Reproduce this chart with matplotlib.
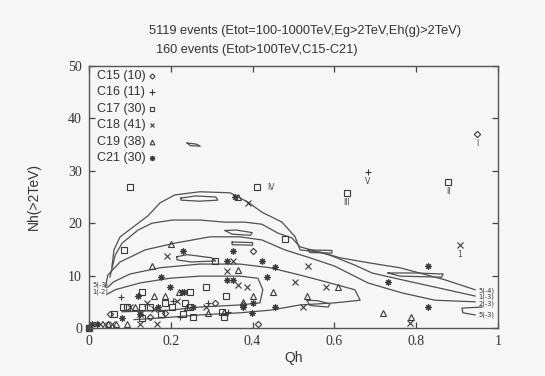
import matplotlib
matplotlib.use('Agg')
import matplotlib.pyplot as plt

# ---- events per class (Qh, Nh)
c15_q = [0.949, 0.401, 0.377, 0.413, 0.308, 0.051, 0.149, 0.185]
c15_n = [37.0, 14.7, 4.4, 0.8, 4.8, 2.7, 2.1, 2.9]
c16_q = [0.682, 0.078, 0.291, 0.222, 0.340, 0.205]
c16_n = [29.8, 5.9, 4.8, 2.1, 3.0, 5.2]
c17_q = [0.100, 0.411, 0.631, 0.878, 0.479, 0.086, 0.286, 0.308, 0.247, 0.130,
         0.335, 0.083, 0.093, 0.130, 0.149, 0.186, 0.203, 0.235, 0.247, 0.061,
         0.130, 0.176, 0.230, 0.254, 0.330, 0.326]
c17_n = [26.9, 26.9, 25.8, 27.9, 17.0, 14.9, 7.8, 12.8, 6.9, 6.9,
         6.1, 4.0, 4.0, 4.0, 4.0, 4.8, 4.0, 4.8, 4.0, 2.7,
         1.9, 2.7, 2.7, 2.1, 2.1, 3.0]
c18_q = [0.907, 0.389, 0.191, 0.352, 0.337, 0.535, 0.504, 0.386, 0.579, 0.100,
         0.142, 0.286, 0.523, 0.027, 0.040, 0.056, 0.125, 0.166, 0.785, 0.125,
         0.215, 0.365, 0.160]
c18_n = [15.8, 23.9, 13.7, 12.8, 10.9, 11.8, 8.8, 7.8, 7.8, 4.0,
         4.8, 4.0, 4.0, 0.8, 0.8, 0.8, 0.8, 0.8, 1.0, 2.7,
         5.2, 8.2, 3.6]
c19_q = [0.364, 0.200, 0.154, 0.364, 0.450, 0.533, 0.401, 0.609, 0.159, 0.186,
         0.112, 0.291, 0.719, 0.787, 0.046, 0.066, 0.093, 0.377, 0.220, 0.240,
         0.330]
c19_n = [25.0, 16.0, 11.8, 11.1, 6.9, 6.1, 6.1, 7.8, 6.1, 6.1,
         4.0, 2.9, 2.9, 2.1, 0.8, 0.8, 0.8, 5.0, 6.9, 4.0,
         3.0]
c21_q = [0.357, 0.230, 0.352, 0.337, 0.423, 0.455, 0.176, 0.435, 0.337, 0.352,
         0.198, 0.227, 0.120, 0.169, 0.254, 0.377, 0.401, 0.455, 0.399, 0.829,
         0.731, 0.829, 0.081, 0.125, 0.007, 0.020, 0.232, 0.0]
c21_n = [25.0, 14.7, 14.7, 12.8, 12.8, 11.7, 9.7, 9.7, 9.2, 9.2,
         7.8, 6.9, 6.1, 4.0, 4.0, 4.0, 4.8, 4.0, 2.9, 11.8,
         8.8, 4.0, 1.9, 2.7, 0.8, 0.8, 6.9, 0.0]

legend_names = ['C15 (10)', 'C16 (11)', 'C17 (30)', 'C18 (41)', 'C19 (38)', 'C21 (30)']

# ---- named events
named_q = [0.949, 0.878, 0.631, 0.411, 0.682, 0.907]
named_n = [37.0, 27.9, 25.8, 26.9, 29.8, 15.8]
named_txt = ['I', 'II', 'III', 'IV', 'V', '1']

# ---- simulated density contours (traced)
lv_5e4_q = [0.056, 0.061, 0.076, 0.105, 0.144, 0.174, 0.210, 0.271, 0.345, 0.389,
            0.423, 0.472, 0.504, 0.516, 0.565, 0.614, 0.687, 0.760, 0.870, 0.944]
lv_5e4_n = [11.6, 14.9, 17.4, 19.1, 21.4, 23.9, 25.4, 26.0, 25.8, 24.0,
            22.1, 20.2, 17.4, 14.9, 14.5, 13.4, 12.4, 11.5, 9.2, 7.3]
lv_1e3_q = [0.051, 0.064, 0.081, 0.120, 0.154, 0.203, 0.271, 0.333, 0.381, 0.423,
            0.462, 0.496, 0.516, 0.589, 0.650, 0.692, 0.765, 0.846, 0.944]
lv_1e3_n = [9.7, 13.9, 16.2, 18.7, 20.0, 20.6, 20.6, 20.2, 20.2, 19.8,
            18.1, 17.2, 15.5, 13.9, 12.0, 10.5, 9.2, 7.8, 6.1]
lv_2e3_q = [0.040, 0.046, 0.076, 0.137, 0.210, 0.296, 0.369, 0.423, 0.479, 0.540,
            0.601, 0.682, 0.765, 0.846, 0.944]
lv_2e3_n = [7.8, 10.1, 12.6, 14.9, 16.2, 17.4, 17.4, 16.8, 14.9, 13.4,
            11.8, 8.6, 6.7, 5.3, 5.0]
lv_5e3_q = [0.046, 0.060, 0.100, 0.174, 0.271, 0.369, 0.443, 0.516, 0.589, 0.650,
            0.663, 0.601, 0.516, 0.443, 0.369, 0.271, 0.174, 0.110]
lv_5e3_n = [7.8, 8.8, 10.3, 11.5, 12.2, 12.2, 11.5, 10.1, 8.6, 7.3,
            5.3, 4.8, 4.4, 3.4, 2.9, 2.5, 1.9, 1.6]
lv_5e3b_q = [0.961, 0.912, 0.914, 0.944]
lv_5e3b_n = [4.0, 3.8, 2.9, 2.5]
lv_1e2_q = [0.046, 0.064, 0.125, 0.198, 0.271, 0.369, 0.413, 0.425, 0.418, 0.369,
            0.271, 0.198, 0.125, 0.080]
lv_1e2_n = [6.5, 7.3, 8.6, 9.5, 9.9, 9.9, 9.5, 7.3, 4.8, 4.4,
            4.0, 3.4, 3.2, 3.1]

isl_a_q = [0.225, 0.260, 0.310, 0.315, 0.270, 0.225, 0.225]
isl_a_n = [24.8, 25.2, 25.0, 24.4, 24.2, 24.4, 24.8]
isl_b_q = [0.240, 0.262, 0.272, 0.248, 0.240]
isl_b_n = [35.3, 35.1, 34.7, 34.8, 35.3]
isl_c_q = [0.215, 0.240, 0.300, 0.310, 0.250, 0.215, 0.215]
isl_c_n = [13.6, 14.0, 13.4, 12.8, 12.6, 13.0, 13.6]
isl_d_q = [0.333, 0.360, 0.399, 0.395, 0.350, 0.333]
isl_d_n = [18.6, 18.7, 18.2, 17.7, 17.9, 18.6]
isl_e_q = [0.350, 0.400, 0.400, 0.350, 0.350]
isl_e_n = [16.4, 16.3, 15.8, 15.9, 16.4]
isl_f_q = [0.535, 0.594, 0.594, 0.540, 0.535]
isl_f_n = [14.9, 14.8, 14.3, 14.4, 14.9]
isl_g_q = [0.731, 0.800, 0.866, 0.862, 0.760, 0.731]
isl_g_n = [10.5, 10.5, 10.3, 9.7, 9.9, 10.5]
isl_h_q = [0.533, 0.560, 0.589, 0.585, 0.540, 0.533]
isl_h_n = [5.3, 5.2, 4.6, 4.0, 4.3, 5.3]

right_lbl = ['5(-4)', '1(-3)', '2(-3)', '5(-3)']
right_lbl_n = [7.1, 5.9, 4.7, 2.5]
left_lbl = ['5(-3)', '1(-2)']
left_lbl_n = [8.2, 6.9]

ink = '#3a3a3a'
bg = '#f6f6f6'

fig = plt.figure(figsize=(5.45, 3.76), dpi=100)
fig.patch.set_facecolor(bg)
ax = fig.add_axes([89 / 545, 48 / 376, 409 / 545, 262 / 376])
ax.set_facecolor(bg)

contours = [(lv_5e4_q, lv_5e4_n), (lv_1e3_q, lv_1e3_n), (lv_2e3_q, lv_2e3_n),
            (lv_5e3_q, lv_5e3_n), (lv_5e3b_q, lv_5e3b_n), (lv_1e2_q, lv_1e2_n),
            (isl_a_q, isl_a_n), (isl_b_q, isl_b_n), (isl_c_q, isl_c_n),
            (isl_d_q, isl_d_n), (isl_e_q, isl_e_n), (isl_f_q, isl_f_n),
            (isl_g_q, isl_g_n), (isl_h_q, isl_h_n)]
for q, n in contours:
    ax.plot(q, n, color='#505050', lw=0.9)

ms = 4.2
styles = [
    (c15_q, c15_n, dict(marker='D', ms=3.2, mfc='none')),
    (c16_q, c16_n, dict(marker='+', ms=5)),
    (c17_q, c17_n, dict(marker='s', ms=ms, mfc='none')),
    (c18_q, c18_n, dict(marker='x', ms=ms)),
    (c19_q, c19_n, dict(marker='^', ms=ms, mfc='none')),
    (c21_q, c21_n, dict(marker=(8, 2, 0), ms=ms + 0.5)),
]
for i, (q, n, st) in enumerate(styles):
    ax.plot(q, n, ls='none', color=ink, mec=ink, mew=0.8, clip_on=False, **st)
    y = 0.962 - i * 0.0627
    ax.text(0.02, y, legend_names[i], transform=ax.transAxes, fontsize=9,
            family='Liberation Sans', color='#333333', va='center')
    ax.plot([0.154], [y], transform=ax.transAxes, ls='none', color=ink,
            mec=ink, mew=0.8, **dict(st, ms=st['ms'] * 0.8))

# origin block
ax.plot([0.0], [0.0], marker='s', ms=5, color='#444444', clip_on=False)

for q, n, t in zip(named_q, named_n, named_txt):
    if t == 'IV':
        ax.annotate(t, (q, n), xytext=(7, 0), textcoords='offset points',
                    fontsize=5.5, color='#444444', va='center', ha='left')
    else:
        ax.annotate(t, (q, n), xytext=(0, -7), textcoords='offset points',
                    fontsize=5.5, color='#444444', va='center', ha='center')

for t, n in zip(right_lbl, right_lbl_n):
    ax.text(0.953, n, t, fontsize=4.8, color='#333333', va='center', ha='left')
for t, n in zip(left_lbl, left_lbl_n):
    ax.text(0.008, n, t, fontsize=4.8, color='#333333', va='center', ha='left')

ax.set_xlim(0, 1)
ax.set_ylim(0, 50)
ax.set_xticks([0, 0.2, 0.4, 0.6, 0.8, 1])
ax.set_xticklabels(['0', '0.2', '0.4', '0.6', '0.8', '1'])
ax.set_yticks([0, 10, 20, 30, 40, 50])
ax.tick_params(direction='in', length=4, width=0.9, color='#444444',
               top=True, right=True, labelsize=10, labelcolor='#333333', pad=5)
for lab in ax.get_xticklabels() + ax.get_yticklabels():
    lab.set_family('Liberation Serif')
for sp in ax.spines.values():
    sp.set_color('#555555')
    sp.set_linewidth(1.0)

ax.set_xlabel('Qh', fontsize=10, family='Liberation Sans', color='#333333', labelpad=2)
ax.set_ylabel('Nh(>2TeV)', fontsize=10, family='Liberation Sans', color='#333333', labelpad=20)

fig.text(149 / 545, 1 - 31 / 376, '5119 events (Etot=100-1000TeV,Eg>2TeV,Eh(g)>2TeV)',
         fontsize=9.2, family='Liberation Sans', color='#333333', va='center')
fig.text(149 / 545, 1 - 50 / 376, '  160 events (Etot>100TeV,C15-C21)',
         fontsize=9.2, family='Liberation Sans', color='#333333', va='center')

fig.savefig('out.png', dpi=100, facecolor=bg)
